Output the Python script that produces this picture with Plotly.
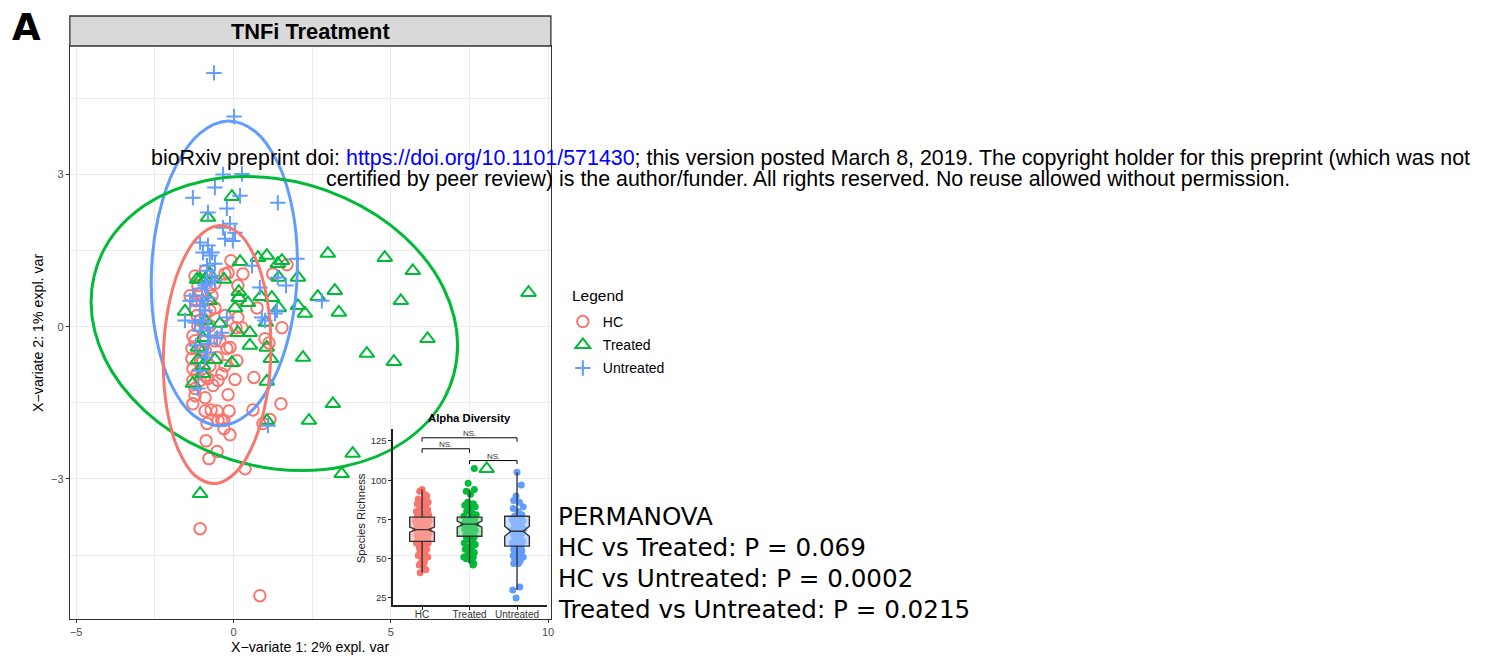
import plotly.graph_objects as go

W, H = 1488, 658
RED, GREEN, BLUE = "#F8766D", "#00BA38", "#619CFF"
SANS = "Liberation Sans"

hc_x = [0.05,0.65,-0.17,1.51,0.62,-0.14,-0.9,-0.71,-0.52,-1.29,-0.9,-0.84,-0.49,-0.3,-0.37,-0.3,-0.11,-0.87,-0.52,-0.78,0.37,0.94,1.16,-1.06,0.84,
        -1.29,-1.22,-1.29,-1.16,-1.06,-0.81,-0.49,-0.65,-0.37,-0.27,-1.32,-0.9,-1.22,-1.06,-0.75,
        -0.08,1.7,1.25,0.3,-0.17,-0.27,-0.9,0.14,0.17,0.75,-0.59,-1.38,-1.06,-0.27,0.14,0.27,1.54,-0.21,0.08,1.0,1.13,-0.11,-0.21,0.11,-0.52,
        -1.13,-1.0,-1.22,-0.9,-1.13,-0.9,-1.22,-0.9,-1.32,-1.06,-0.75,-0.68,-0.9,-1.29,-0.75,-0.59,-0.43,-1.16,-1.06,-1.19,-0.75,-0.59,-1.22]
hc_y = [-1.04,-1.0,-1.34,-1.52,-1.64,-1.66,-1.66,-1.64,-1.66,-1.52,-1.4,-1.91,-1.85,-1.85,-1.85,-2.01,-2.13,-2.25,-2.46,-2.6,-2.8,-1.91,-1.83,-3.98,-5.3,
        -1.06,-1.22,-0.83,-0.93,-1.06,-1.02,-1.06,-1.16,-0.93,-0.77,-0.63,-0.97,-1.36,-0.71,-0.77,
        1.3,1.22,1.04,1.04,1.06,1.04,1.1,0.81,0.55,0.37,0.37,0.61,0.65,0.22,0.18,-0.02,-0.02,-0.08,-0.02,-0.24,-0.32,-0.41,-0.43,-0.67,-0.61,
        0.81,0.51,0.32,0.22,0.02,-0.08,-0.28,-0.28,-0.43,-0.47,0.32,0.61,-0.47,-0.18,0.02,-0.28,-0.28,0.22,0.12,0.51,0.77,0.85,1.0]

tr_x = [3.0,4.81,5.7,9.38,3.22,2.68,5.32,3.35,2.27,6.17,4.24,5.1,2.21,3.16,2.4,3.79,3.44,8.05,-1.06,1.06,1.06,1.19,1.06,0.52,0.52,0.14,1.03,-0.43,-1.54,0.05,
        1.44,2.05,1.22,0.87,0.46,0.17,0.17,-0.3,-1.16,-1.06,-0.75,-0.9,0.21,0.78,1.06,1.54,1.41,1.44,2.05,-0.05,-0.81,-0.59,-1.13,-0.97,-1.13,-0.97,-0.97,-1.29,-0.05,-0.75,-0.9]
tr_y = [1.44,1.36,1.1,0.67,0.71,0.59,0.51,0.28,0.26,-0.24,-0.53,-0.69,-0.61,-1.52,-1.85,-2.5,-2.9,-2.8,-3.29,-1.85,-1.08,-0.63,-0.41,-0.37,-0.12,-0.12,0.08,0.06,0.3,0.37,
        0.37,0.41,0.57,0.59,0.47,0.57,0.69,0.93,0.93,0.93,1.04,0.93,1.28,1.36,1.4,1.3,1.24,0.97,0.97,2.56,2.15,-0.65,-0.65,-0.77,-0.41,-0.22,-0.93,-1.12,-0.71,0.51,0.12]

un_x = [-0.62,0.02,-0.33,0.27,-0.59,-1.29,0.21,1.41,-0.81,-0.21,-0.11,-0.33,0.05,-0.27,-0.02,-1.06,-0.81,-0.97,-0.68,2.02,-0.84,-0.59,-0.75,-0.84,0.59,1.41,1.67,0.84,-0.59,-0.84,
        -1.29,-0.81,-1.06,2.81,-1.54,-0.97,-0.21,0.9,1.32,-0.37,-0.52,-0.81,-0.81,-1.06,-0.84,-1.06,-0.97,-1.0,-1.13,1.1,-0.9,-1.06,-1.19,-0.75,-1.22,-0.9,-1.38,-0.9,-0.68,1.38,1.0]
un_y = [5.0,4.14,3.0,3.01,2.74,2.54,2.58,2.44,2.25,2.33,2.03,1.95,1.85,1.73,1.69,1.66,1.6,1.46,1.46,1.34,1.2,1.24,1.4,1.1,1.2,0.97,0.81,0.77,0.91,0.85,
        0.61,0.57,0.41,0.51,0.12,0.12,0.18,0.18,0.26,-0.12,-0.22,-0.33,-0.02,-0.08,-0.51,0.12,0.51,0.75,-1.22,-1.95,-0.61,-0.87,-0.37,-0.18,0.08,0.32,0.51,0.81,1.0,0.32,0.12]

ell_red_x = [1.19,1.07,0.71,0.163,-0.49,-1.147,-1.708,-2.089,-2.23,-2.111,-1.75,-1.203,-0.55,0.107,0.668,1.049,1.19]
ell_red_y = [-0.43,0.534,1.331,1.843,1.99,1.751,1.161,0.312,-0.67,-1.634,-2.431,-2.943,-3.09,-2.851,-2.261,-1.412,-0.43]
ell_green_x = [7.125,6.682,5.419,3.531,1.3,-0.931,-2.819,-4.082,-4.525,-4.082,-2.819,-0.931,1.3,3.531,5.419,6.682,7.125]
ell_green_y = [-0.373,0.757,1.778,2.539,2.923,2.871,2.39,1.557,0.493,-0.637,-1.658,-2.419,-2.803,-2.751,-2.27,-1.437,-0.373]
ell_blue_x = [2.03,1.896,1.428,0.701,-0.18,-1.077,-1.852,-2.392,-2.61,-2.476,-2.008,-1.281,-0.4,0.497,1.272,1.812,2.03]
ell_blue_y = [1.1,2.245,3.206,3.841,4.05,3.803,3.136,2.153,1.0,-0.145,-1.106,-1.741,-1.95,-1.703,-1.036,-0.053,1.1]

inset_categories = ["HC", "Treated", "Untreated"]
in_hc_x = [1.0,0.95,1.05,1.1,0.92,1.02,1.13,0.9,1.0,1.08,0.95,1.12,0.88,1.04,0.97,1.14,0.9,1.06,1.0,0.93,1.1,1.15,0.86,1.03,0.96,1.08,0.9,1.12,1.0,0.94,
           1.06,1.14,0.87,1.02,0.97,1.1,0.92,1.05,1.15,0.89,1.0,1.08,0.95,1.12,0.91,1.04,0.98,1.13,0.88,1.07,1.0,0.94,1.1,1.03,0.96,1.06,0.92,1.12,1.0,1.05,0.97,0.94,1.03,1.08,0.96]
in_hc_y = [94,93,91,90,88,87,86,85,84,83,82,81,80,79,78,78,77,76,76,75,75,74,74,73,73,72,72,71,71,70,
           70,69,69,68,68,67,67,66,66,65,65,64,64,63,62,62,61,60,60,59,58,57,56,55,54,53,52,51,50,48,47,46,45,43,41]
in_tr_x = [1.97,2.1,1.93,2.02,1.96,2.08,1.9,2.12,2.0,1.94,2.06,2.14,1.88,2.03,1.97,2.1,1.92,2.05,2.13,1.88,2.0,1.95,2.08,1.9,2.12,2.02,1.96,2.06,1.92,2.1,
           2.0,1.94,2.07,1.89,2.12,2.03,1.97,1.91,2.06,2.1,2.0,1.95,1.88,2.08,1.93,2.03,2.09,2.07]
in_tr_y = [98,94,93,91,86,85,84,83,82,80,79,78,77,76,75,75,74,73,72,72,71,70,70,69,68,68,67,66,65,64,
           63,62,61,60,59,58,57,56,55,54,53,52,51,51,50,49,47,46]
in_tr_out_x = [2.1]
in_tr_out_y = [107.5]
in_un_x = [3.0,3.09,2.98,2.93,3.05,3.13,2.92,3.02,3.1,2.95,3.06,2.9,3.12,3.0,2.94,3.08,2.96,3.14,2.9,3.04,3.1,2.93,3.0,3.07,2.95,3.12,2.9,3.03,3.09,2.97,
           2.93,3.05,3.1,2.96,3.0,3.08,2.92,3.04,3.13,2.95,3.02,3.07,2.98,3.05,2.93,3.03,2.91,3.06,2.98]
in_un_y = [105,97,90,87,86,83,82,80,78,77,76,75,74,73,72,71,70,69,68,67,66,65,64,63,62,61,60,59,58,57,
           56,56,55,54,53,52,52,51,51,50,49,49,48,48,47,47,30,32,25]

box_q1 = [61, 64.3, 58]
box_med = [68.5, 72, 67.5]
box_q3 = [76.5, 76.5, 77]
box_low = [41, 47, 30]
box_up = [94, 94, 105]
box_notch = [1.6, 1.9, 3.2]

bracket_from = [1, 1, 2]
bracket_to = [3, 2, 3]
bracket_top = [127, 120, 112.5]
bracket_tip = [124.5, 117.5, 110.3]
bracket_label = ["NS.", "NS.", "NS."]

permanova_lines = ["PERMANOVA", "HC vs Treated: P = 0.069", "HC vs Untreated: P = 0.0002", "Treated vs Untreated: P = 0.0215"]

fig = go.Figure()

def dom_x(a, b): return [a / W, b / W]
def dom_y(a, b): return [1 - b / H, 1 - a / H]

fig.add_trace(go.Scatter(x=hc_x, y=hc_y, mode="markers", name="HC", legendgroup="a",
    marker=dict(symbol="circle-open", size=11.5, color=RED, line=dict(width=2, color=RED))))
fig.add_trace(go.Scatter(x=tr_x, y=tr_y, mode="markers", name="Treated", legendgroup="b",
    marker=dict(symbol="triangle-up-open", size=13, color=GREEN, line=dict(width=2, color=GREEN))))
fig.add_trace(go.Scatter(x=un_x, y=un_y, mode="markers", name="Untreated", legendgroup="c",
    marker=dict(symbol="cross-thin-open", size=11, color=BLUE, line=dict(width=2, color=BLUE))))
for ex, ey, c in [(ell_blue_x, ell_blue_y, BLUE), (ell_green_x, ell_green_y, GREEN), (ell_red_x, ell_red_y, RED)]:
    fig.add_trace(go.Scatter(x=ex, y=ey, mode="lines", showlegend=False, hoverinfo="skip",
        line=dict(color=c, width=3, shape="spline", smoothing=1.0)))

for px_, py_, c in [(in_hc_x, in_hc_y, RED), (in_tr_x, in_tr_y, GREEN), (in_tr_out_x, in_tr_out_y, GREEN), (in_un_x, in_un_y, BLUE)]:
    fig.add_trace(go.Scatter(x=px_, y=py_, mode="markers", xaxis="x2", yaxis="y2", showlegend=False,
        marker=dict(size=7, color=c)))

for i, c in enumerate(["rgba(250,175,170,0.6)", "rgba(110,215,140,0.6)", "rgba(165,200,255,0.6)"]):
    fig.add_trace(go.Box(x=[i + 1], q1=[box_q1[i]], median=[box_med[i]], q3=[box_q3[i]],
        lowerfence=[box_low[i]], upperfence=[box_up[i]],
        notchspan=[box_notch[i]], notched=True, notchwidth=0.25, width=0.52, whiskerwidth=0,
        fillcolor=c, line=dict(color="#333333", width=1.4), boxpoints=False,
        xaxis="x3", yaxis="y3", showlegend=False))

for i in range(3):
    fig.add_trace(go.Scatter(
        x=[bracket_from[i], bracket_from[i], bracket_to[i], bracket_to[i]],
        y=[bracket_tip[i], bracket_top[i], bracket_top[i], bracket_tip[i]],
        mode="lines", xaxis="x3", yaxis="y3", showlegend=False, hoverinfo="skip",
        line=dict(color="black", width=1)))
    fig.add_annotation(x=(bracket_from[i] + bracket_to[i]) / 2, y=bracket_top[i], xref="x3", yref="y3",
        text=bracket_label[i], showarrow=False, yanchor="bottom", yshift=-2,
        font=dict(family=SANS, size=8, color="#333333"))

inset_common = dict(range=[0.392, 3.629], domain=dom_x(394, 548), tickmode="array", tickvals=[1, 2, 3])
inset_y_range = [20.5, 132.6]

fig.update_layout(
    width=W, height=H, margin=dict(l=0, r=0, t=0, b=0),
    paper_bgcolor="white", plot_bgcolor="rgba(0,0,0,0)",
    font=dict(family=SANS),
    xaxis=dict(domain=dom_x(70, 552), range=[-5.2, 10.09], tickmode="array", tickvals=[-5, 0, 5, 10],
        ticktext=["\u22125", "0", "5", "10"], ticks="outside", ticklen=3, tickcolor="#333333",
        tickfont=dict(size=11, color="#4d4d4d"), showline=True, mirror=True, linecolor="#333333", linewidth=1.3,
        zeroline=False, showgrid=True, gridcolor="#ebebeb", gridwidth=1,
        minor=dict(tickmode="array", tickvals=[-2.5, 2.5, 7.5], showgrid=True, gridcolor="#ebebeb", gridwidth=1)),
    yaxis=dict(domain=dom_y(46, 619), range=[-5.76, 5.53], tickmode="array", tickvals=[-3, 0, 3],
        ticktext=["\u22123", "0", "3"], ticks="outside", ticklen=3, tickcolor="#333333",
        tickfont=dict(size=11, color="#4d4d4d"), showline=True, mirror=True, linecolor="#333333", linewidth=1.3,
        zeroline=False, showgrid=True, gridcolor="#ebebeb", gridwidth=1,
        minor=dict(tickmode="array", tickvals=[-4.5, -1.5, 1.5, 4.5], showgrid=True, gridcolor="#ebebeb", gridwidth=1)),
    xaxis2=dict(anchor="y2", ticktext=inset_categories, ticks="outside", ticklen=3, tickcolor="#222222",
        tickfont=dict(size=10, color="#333333"), showline=True, linecolor="#222222", linewidth=1.5,
        ticklabelstandoff=-4, zeroline=False, showgrid=False, **inset_common),
    yaxis2=dict(anchor="x2", domain=dom_y(429, 605), range=inset_y_range, tickmode="array", tickvals=[25, 50, 75, 100, 125],
        ticks="outside", ticklen=3, tickcolor="#222222", tickfont=dict(size=9.5, color="#333333"),
        showline=True, linecolor="#222222", linewidth=1.5, zeroline=False, showgrid=False),
    xaxis3=dict(anchor="y3", overlaying="x2", visible=False, **inset_common),
    yaxis3=dict(anchor="x3", overlaying="y2", domain=dom_y(429, 605), range=inset_y_range, visible=False),
    legend=dict(x=564 / W, y=1 - 306 / H, xanchor="left", yanchor="top", tracegroupgap=2,
        font=dict(size=14, family=SANS, color="black"), bgcolor="rgba(0,0,0,0)"),
    shapes=[dict(type="rect", xref="paper", yref="paper", x0=70 / W, x1=552 / W, y0=1 - 46 / H, y1=1 - 16 / H,
                 fillcolor="#d9d9d9", line=dict(color="#333333", width=1.3))],
)

def note(text, x, y, size, family=SANS, color="black", bold=False, xanchor="center", angle=0):
    fig.add_annotation(x=x / W, y=1 - y / H, xref="paper", yref="paper", text=f"<b>{text}</b>" if bold else text,
        showarrow=False, xanchor=xanchor, yanchor="middle", textangle=angle,
        font=dict(family=family, size=size, color=color))

note("A", 27, 27, 37, family="DejaVu Sans", bold=True)
note("TNFi Treatment", 311, 31.5, 21.8, bold=True)
note("X\u2212variate 1: 2% expl. var", 310.5, 647, 14.2)
note("X\u2212variate 2: 1% expl. var", 38, 333, 14.2, angle=-90)
note("Alpha Diversity", 470.5, 418, 11.3, bold=True)
note("Species Richness", 362, 518, 11.3, color="#222222", angle=-90)
note("Legend", 571.5, 296, 15.5, xanchor="left")
note('bioRxiv preprint doi: <span style="color:#0000ff">https://doi.org/10.1101/571430</span>; this version posted March 8, 2019. The copyright holder for this preprint (which was not', 812.5, 158, 21.4)
note("certified by peer review) is the author/funder. All rights reserved. No reuse allowed without permission.", 810, 179, 21.4)
for line, yy in zip(permanova_lines, [516, 547, 578, 609]):
    note(line, 557, yy, 24.6, family="DejaVu Sans", xanchor="left")

fig.write_html("out.html", config=dict(displayModeBar=False),
               post_script="document.body.style.margin='0';document.body.style.overflow='hidden';")
